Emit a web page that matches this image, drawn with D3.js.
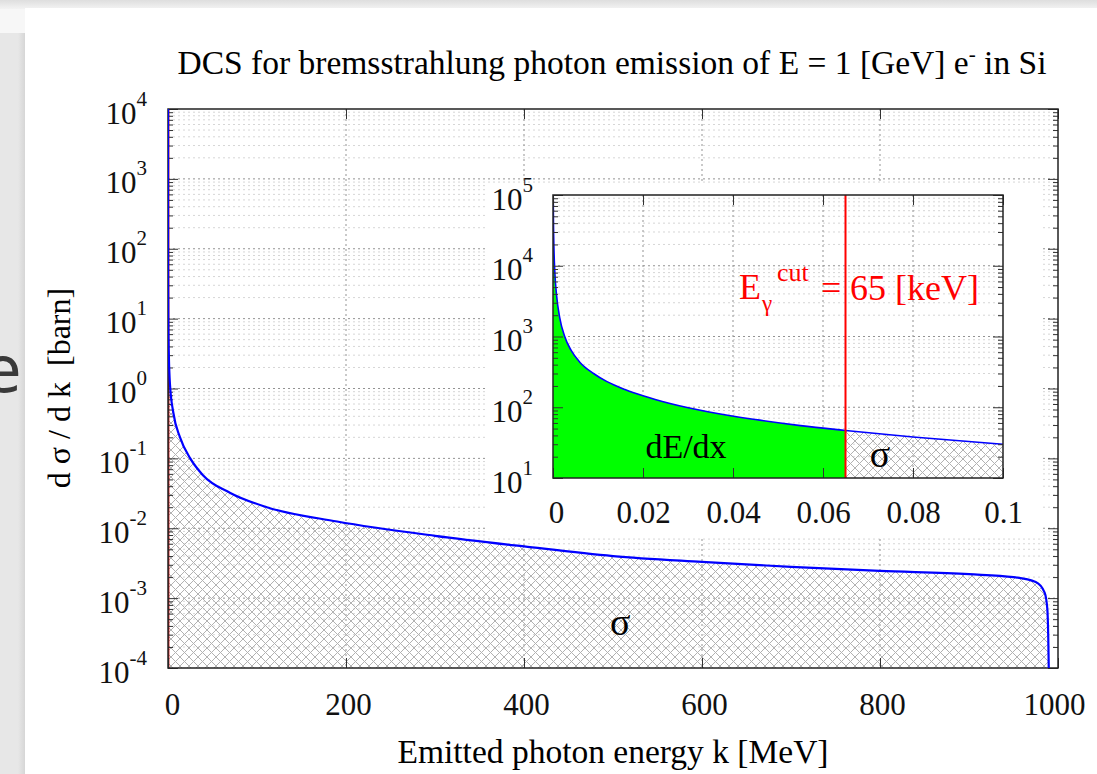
<html>
    <head>
        <style>
        body {
            margin: 0;
            background: #e7e7e7;
        }

        svg {
            display: block;
            font-family: "Liberation Serif", "Times New Roman", serif;
        }

        .grid-major {
            stroke: #939393;
            stroke-dasharray: 2,3;
        }

        .grid-minor {
            stroke: #d6d6d6;
            stroke-dasharray: 2,3;
        }

        .axis .domain {
            display: none;
        }

        .axis .tick line {
            stroke: #333;
        }

        .axis text {
            font-family: "Liberation Serif", "Times New Roman", serif;
            font-size: 31px;
            fill: #111;
        }
        </style>
    </head>
    <body>
        <script src="https://d3js.org/d3.v7.min.js"></script>
        <script>

            // emitted photon energy k [MeV] and d sigma / d k [barn]
            let photonK = [0.00002, 0.00005, 0.0001, 0.0002, 0.0004, 0.0008, 0.0015, 0.0026, 0.004, 0.006,
                           0.009, 0.012, 0.016, 0.02, 0.026, 0.035, 0.045, 0.055, 0.065, 0.08, 0.1,
                           0.3, 1, 2.2, 6, 13.5, 25, 39, 70, 111, 190, 300, 400, 500, 600, 700, 800,
                           900, 950, 975, 985, 988, 989, 990]
            let dcsBarn = [2.5e5, 9.4e4, 4.2e4, 1.85e4, 8.3e3, 3.8e3, 1.83e3, 1.0e3, 640, 430,
                           300, 230, 178, 145, 113, 85, 67, 55, 47, 38, 30,
                           9.2, 2.8, 1.15, 0.45, 0.2, 0.1, 0.058, 0.032, 0.020, 0.0125, 0.0078, 0.0055, 0.0040, 0.0033, 0.0028, 0.00245,
                           0.0022, 0.0020, 0.0017, 0.0012, 0.0007, 0.0003, 0.00005]
            let kCut = 0.065 // MeV

            let xTicks = [0, 200, 400, 600, 800, 1000]
            let yDecades = [1e-4, 1e-3, 1e-2, 1e-1, 1e0, 1e1, 1e2, 1e3, 1e4]
            let insetXTicks = [0, 0.02, 0.04, 0.06, 0.08, 0.1]
            let insetDecades = [1e1, 1e2, 1e3, 1e4, 1e5]

            let width = 1097
            let height = 774

            let data = photonK.map((k, i) => ({k: k, v: dcsBarn[i]}))

            let svg = d3.select("body")
                .append("svg")
                .attr("width", width)
                .attr("height", height)

            // page around the figure
            let defs = svg.append("defs")
            let topFade = defs.append("linearGradient").attr("id", "topFade").attr("x1", 0).attr("y1", 0).attr("x2", 0).attr("y2", 1)
            topFade.append("stop").attr("offset", 0).attr("stop-color", "#dedede")
            topFade.append("stop").attr("offset", 1).attr("stop-color", "#f3f3f3")
            let sideShade = defs.append("linearGradient").attr("id", "sideShade")
            sideShade.append("stop").attr("offset", 0).attr("stop-color", "#e7e7e7")
            sideShade.append("stop").attr("offset", 1).attr("stop-color", "#d6d6d6")

            let hatch = defs.append("pattern")
                .attr("id", "hatch")
                .attr("patternUnits", "userSpaceOnUse")
                .attr("width", 9)
                .attr("height", 9)
            hatch.append("path")
                .attr("d", "M0,0L9,9M9,0L0,9")
                .attr("stroke", "#b2b2b2")
                .attr("stroke-width", 1)
                .attr("fill", "none")

            svg.append("rect").attr("width", width).attr("height", height).attr("fill", "#e7e7e7")
            svg.append("rect").attr("width", 25).attr("height", 33).attr("fill", "#f7f7f7")
            svg.append("rect").attr("x", 18).attr("y", 33).attr("width", 7).attr("height", height).attr("fill", "url(#sideShade)")
            svg.append("rect").attr("width", width).attr("height", 9).attr("fill", "url(#topFade)")
            svg.append("rect").attr("x", 25).attr("y", 8).attr("width", width - 25).attr("height", height - 8).attr("fill", "white")
            svg.append("text")
                .attr("x", 2)
                .attr("y", 392)
                .attr("text-anchor", "middle")
                .style("font-family", "DejaVu Sans")
                .style("font-size", "64px")
                .style("fill", "#3a3a3a")
                .text("e")

            let frame = {left: 168, right: 1058, top: 109, bottom: 668}
            let box = {left: 553, right: 1003, top: 195, bottom: 478}

            let x = d3.scaleLinear().domain([0, 1000]).range([frame.left, frame.right])
            let y = d3.scaleLog().domain([1e-4, 1e4]).range([frame.bottom, frame.top])
            let xi = d3.scaleLinear().domain([0, 0.1]).range([box.left, box.right])
            let yi = d3.scaleLog().domain([1e1, 1e5]).range([box.bottom, box.top])

            function minorTicks(decades) {
                let out = []
                decades.slice(0, -1).forEach(d => {
                    for (let m = 2; m < 10; m++) out.push(d * m)
                })
                return out
            }

            function clip(id, b) {
                defs.append("clipPath").attr("id", id)
                    .append("rect")
                    .attr("x", b.left).attr("y", b.top)
                    .attr("width", b.right - b.left).attr("height", b.bottom - b.top)
                return `url(#${id})`
            }

            function drawGrid(g, b, xs, ys, gridX, decades) {
                g.selectAll(".grid-minor")
                    .data(minorTicks(decades))
                    .join("line")
                    .attr("class", "grid-minor")
                    .attr("x1", b.left).attr("x2", b.right)
                    .attr("y1", d => ys(d)).attr("y2", d => ys(d))
                g.selectAll(".grid-major.h")
                    .data(decades.slice(1, -1))
                    .join("line")
                    .attr("class", "grid-major h")
                    .attr("x1", b.left).attr("x2", b.right)
                    .attr("y1", d => ys(d)).attr("y2", d => ys(d))
                g.selectAll(".grid-major.v")
                    .data(gridX.slice(1, -1))
                    .join("line")
                    .attr("class", "grid-major v")
                    .attr("x1", d => xs(d)).attr("x2", d => xs(d))
                    .attr("y1", b.top).attr("y2", b.bottom)
            }

            function drawAxes(g, b, xs, ys, tickX, decades, labelPad, xLabelY, xShift) {
                let minors = minorTicks(decades)
                ;[[d3.axisLeft, b.left], [d3.axisRight, b.right]].forEach(([ax, pos]) => {
                    g.append("g").attr("class", "axis").attr("transform", `translate(${pos},0)`)
                        .call(ax(ys).tickValues(decades).tickSize(-10).tickFormat(""))
                    g.append("g").attr("class", "axis").attr("transform", `translate(${pos},0)`)
                        .call(ax(ys).tickValues(minors).tickSize(-5).tickFormat(""))
                })
                ;[[d3.axisBottom, b.bottom], [d3.axisTop, b.top]].forEach(([ax, pos]) => {
                    g.append("g").attr("class", "axis").attr("transform", `translate(0,${pos})`)
                        .call(ax(xs).tickValues(tickX).tickSize(-10).tickFormat(""))
                })

                g.append("rect")
                    .attr("x", b.left).attr("y", b.top)
                    .attr("width", b.right - b.left).attr("height", b.bottom - b.top)
                    .attr("fill", "none")
                    .attr("stroke", "#222")
                    .attr("stroke-width", 1.5)

                let yLabels = g.append("g").attr("class", "axis")
                    .attr("transform", `translate(${b.left},0)`)
                    .call(d3.axisLeft(ys).tickValues(decades).tickSize(0).tickPadding(labelPad))
                yLabels.selectAll(".tick text")
                    .attr("dy", 14)
                    .each(function (d) {
                        let t = d3.select(this).text(null)
                        t.append("tspan").text("10")
                        t.append("tspan").attr("dy", -18).attr("font-size", 21).text(Math.round(Math.log10(d)))
                    })

                let xLabels = g.append("g").attr("class", "axis")
                    .attr("transform", `translate(0,${b.bottom})`)
                    .call(d3.axisBottom(xs).tickValues(tickX).tickSize(0).tickFormat(d3.format("~g")))
                xLabels.selectAll(".tick text")
                    .attr("x", d => xShift(d))
                    .attr("y", xLabelY)
                    .attr("dy", 0)
            }

            // ---- main plot ----
            let main = svg.append("g")
            drawGrid(main, frame, x, y, xTicks, yDecades)

            let mainPlot = main.append("g").attr("clip-path", clip("clipMain", frame))

            mainPlot.append("path")
                .datum(data.filter(d => d.k >= kCut))
                .attr("fill", "url(#hatch)")
                .attr("d", d3.area().curve(d3.curveMonotoneX)
                    .x(d => x(d.k)).y0(frame.bottom).y1(d => y(d.v)))

            mainPlot.append("line")
                .attr("x1", x(kCut) + 0.6).attr("x2", x(kCut) + 0.6)
                .attr("y1", frame.top).attr("y2", frame.bottom)
                .attr("stroke", "#d01010")
                .attr("stroke-width", 1.5)

            drawAxes(main, frame, x, y, xTicks, yDecades, 21, 47, d => d == 0 ? 4 : (d == 1000 ? -4 : 2))

            main.append("path")
                .datum(data)
                .attr("clip-path", "url(#clipMain)")
                .attr("fill", "none")
                .attr("stroke", "#0000ff")
                .attr("stroke-width", 2.2)
                .attr("d", d3.line().curve(d3.curveMonotoneX).x(d => x(d.k)).y(d => y(d.v)))

            main.append("text")
                .attr("x", x(508))
                .attr("y", 635)
                .attr("text-anchor", "middle")
                .style("font-size", "38px")
                .text("σ")

            // titles
            let title = svg.append("text")
                .attr("x", 612)
                .attr("y", 74)
                .attr("text-anchor", "middle")
                .style("font-size", "33.5px")
            title.append("tspan").text("DCS for bremsstrahlung photon emission of E = 1 [GeV] e")
            title.append("tspan").attr("dy", -13).style("font-size", "21px").text("-")
            title.append("tspan").attr("dy", 13).text(" in Si")

            svg.append("text")
                .attr("x", 613)
                .attr("y", 763)
                .attr("text-anchor", "middle")
                .style("font-size", "33.5px")
                .text("Emitted photon energy k [MeV]")

            svg.append("text")
                .attr("transform", "translate(70,388) rotate(-90)")
                .attr("text-anchor", "middle")
                .style("font-size", "32px")
                .style("white-space", "pre")
                .text("d σ / d k  [barn]")

            // ---- inset ----
            let inset = svg.append("g")
            inset.append("rect")
                .attr("x", 487).attr("y", 183)
                .attr("width", 1043 - 487).attr("height", 537 - 183)
                .attr("fill", "white")
            drawGrid(inset, box, xi, yi, insetXTicks, insetDecades)

            let insetData = data.filter(d => d.k <= 0.1)
            let insetPlot = inset.append("g").attr("clip-path", clip("clipInset", box))
            let insetArea = d3.area().curve(d3.curveMonotoneX)
                .x(d => xi(d.k)).y0(box.bottom).y1(d => yi(d.v))

            insetPlot.append("path")
                .datum(insetData.filter(d => d.k <= kCut))
                .attr("fill", "#00ff00")
                .attr("d", insetArea)

            insetPlot.append("path")
                .datum(insetData.filter(d => d.k >= kCut))
                .attr("fill", "url(#hatch)")
                .attr("d", insetArea)

            insetPlot.append("path")
                .datum(insetData)
                .attr("fill", "none")
                .attr("stroke", "#0000ff")
                .attr("stroke-width", 1.6)
                .attr("d", d3.line().curve(d3.curveMonotoneX).x(d => xi(d.k)).y(d => yi(d.v)))

            insetPlot.append("line")
                .attr("x1", xi(kCut)).attr("x2", xi(kCut))
                .attr("y1", box.top).attr("y2", box.bottom)
                .attr("stroke", "#ff0000")
                .attr("stroke-width", 2)

            drawAxes(inset, box, xi, yi, insetXTicks, insetDecades, 20, 45, d => d == 0 ? 3 : 0)

            inset.append("text")
                .attr("x", 686)
                .attr("y", 458)
                .attr("text-anchor", "middle")
                .style("font-size", "34px")
                .text("dE/dx")

            inset.append("text")
                .attr("x", 880)
                .attr("y", 467)
                .attr("text-anchor", "middle")
                .style("font-size", "38px")
                .text("σ")

            let cutLabel = inset.append("text")
                .style("fill", "#ff0000")
                .style("font-size", "36px")
            cutLabel.append("tspan").attr("x", 739).attr("y", 299).text("E")
            cutLabel.append("tspan").attr("x", 762).attr("y", 311).style("font-size", "23px").text("γ")
            cutLabel.append("tspan").attr("x", 777).attr("y", 281).style("font-size", "26px").text("cut")
            cutLabel.append("tspan").attr("x", 821).attr("y", 300).text("=")
            cutLabel.append("tspan").attr("x", 850).attr("y", 300).text("65 [keV]")

        </script>
    </body>
</html>
